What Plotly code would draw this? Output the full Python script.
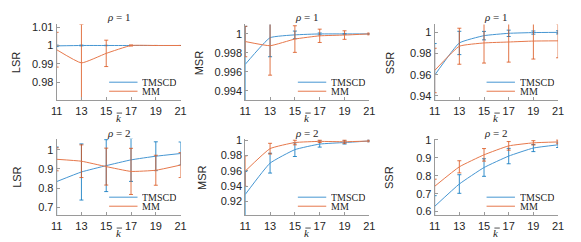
import plotly.graph_objects as go

k_values = [11, 13, 15, 17, 19, 21]
x_ticks = [11, 13, 15, 17, 19, 21]

# rho = 1
tmscd_lsr_r1 = [0.9998, 1.0, 1.0, 1.0, 1.0, 1.0]
tmscd_lsr_r1_err = [0.0004, 0.0002, 0.0001, 0.0, 0.0, 0.0]
mm_lsr_r1 = [0.9977, 0.9905, 0.9957, 1.0, 1.0, 1.0]
mm_lsr_r1_err = [0.0095, 0.021, 0.0072, 0.0003, 0.0, 0.0]

tmscd_msr_r1 = [0.9968, 0.9996, 0.9999, 1.0, 1.0, 1.0]
tmscd_msr_r1_err = [0.004, 0.002, 0.0004, 0.0001, 0.00005, 0.0]
mm_msr_r1 = [0.9992, 0.99876, 0.99946, 0.9998, 0.99988, 1.0]
mm_msr_r1_err = [0.0016, 0.0031, 0.0014, 0.0007, 0.00045, 0.0001]

tmscd_ssr_r1 = [0.9595, 0.99, 0.9969, 0.9991, 0.9998, 1.0]
tmscd_ssr_r1_err = [0.03, 0.011, 0.004, 0.003, 0.0015, 0.0015]
mm_ssr_r1 = [0.964, 0.9869, 0.99, 0.9909, 0.9918, 0.992]
mm_ssr_r1_err = [0.021, 0.017, 0.019, 0.019, 0.017, 0.016]

# rho = 2
tmscd_lsr_r2 = [0.834, 0.884, 0.917, 0.947, 0.966, 0.98]
tmscd_lsr_r2_err = [0.18, 0.146, 0.135, 0.112, 0.075, 0.06]
mm_lsr_r2 = [0.95, 0.94, 0.912, 0.887, 0.893, 0.92]
mm_lsr_r2_err = [0.06, 0.085, 0.096, 0.12, 0.078, 0.065]

tmscd_msr_r2 = [0.929, 0.970, 0.9877, 0.995, 0.997, 0.999]
tmscd_msr_r2_err = [0.03, 0.013, 0.009, 0.004, 0.002, 0.001]
mm_msr_r2 = [0.9596, 0.989, 0.997, 0.9985, 0.998, 0.999]
mm_msr_r2_err = [0.02, 0.007, 0.003, 0.0015, 0.002, 0.001]

tmscd_ssr_r2 = [0.629, 0.754, 0.846, 0.91, 0.955, 0.973]
tmscd_ssr_r2_err = [0.06, 0.052, 0.049, 0.043, 0.02, 0.015]
mm_ssr_r2 = [0.741, 0.85, 0.917, 0.967, 0.984, 0.989]
mm_ssr_r2_err = [0.04, 0.034, 0.035, 0.024, 0.012, 0.01]

series_names = ["TMSCD", "MM"]
y_labels = ["LSR", "MSR", "SSR"]
titles = ["<i>ρ</i> = 1", "<i>ρ</i> = 2"]

panels = [
    # (row, col, tmscd, tmscd_err, mm, mm_err, yrange, yticks, ticktext)
    (1, 1, tmscd_lsr_r1, tmscd_lsr_r1_err, mm_lsr_r1, mm_lsr_r1_err,
     [0.97, 1.0115], [0.98, 0.99, 1.0, 1.01], ["0.98", "0.99", "1", "1.01"]),
    (1, 2, tmscd_msr_r1, tmscd_msr_r1_err, mm_msr_r1, mm_msr_r1_err,
     [0.993, 1.001], [0.994, 0.996, 0.998, 1.0], ["0.994", "0.996", "0.998", "1"]),
    (1, 3, tmscd_ssr_r1, tmscd_ssr_r1_err, mm_ssr_r1, mm_ssr_r1_err,
     [0.9357, 1.0075], [0.94, 0.96, 0.98, 1.0], ["0.94", "0.96", "0.98", "1"]),
    (2, 1, tmscd_lsr_r2, tmscd_lsr_r2_err, mm_lsr_r2, mm_lsr_r2_err,
     [0.658, 1.057], [0.7, 0.8, 0.9, 1.0], ["0.7", "0.8", "0.9", "1"]),
    (2, 2, tmscd_msr_r2, tmscd_msr_r2_err, mm_msr_r2, mm_msr_r2_err,
     [0.9015, 1.002], [0.92, 0.94, 0.96, 0.98, 1.0], ["0.92", "0.94", "0.96", "0.98", "1"]),
    (2, 3, tmscd_ssr_r2, tmscd_ssr_r2_err, mm_ssr_r2, mm_ssr_r2_err,
     [0.5785, 1.007], [0.6, 0.7, 0.8, 0.9, 1.0], ["0.6", "0.7", "0.8", "0.9", "1"]),
]

W, H = 581, 242
col_px = {1: (51.7, 178.3), 2: (244.3, 371.0), 3: (437.7, 563.7)}
row_px = {1: (20.0, 98.3), 2: (137.7, 216.7)}
title_y = {1: 12.5, 2: 131.5}
ylabel_x = {(1, 1): 11, (1, 2): 198, (1, 3): 393, (2, 1): 11, (2, 2): 200, (2, 3): 391}

BLUE_L = "rgb(70,150,210)"
ORANGE_L = "rgb(230,120,75)"
BLUE_E = "rgba(0,114,189,0.8)"
ORANGE_E = "rgba(217,83,25,0.8)"
AXIS_C = "#9a9a9a"
TXT_C = "#262626"
SANS = "Liberation Sans, Arial, sans-serif"
SERIF = "Liberation Serif, Times New Roman, serif"

fig = go.Figure()
layout = dict(
    width=W, height=H, margin=dict(l=0, r=0, t=0, b=0),
    paper_bgcolor="white", plot_bgcolor="white", showlegend=False,
    font=dict(family=SANS, size=11, color=TXT_C),
)
annotations = []
shapes = []

for i, (r, c, t, te, m, me, yr, ytv, ytt) in enumerate(panels):
    idx = i + 1
    xa = "xaxis" if idx == 1 else f"xaxis{idx}"
    ya = "yaxis" if idx == 1 else f"yaxis{idx}"
    xr = "x" if idx == 1 else f"x{idx}"
    yrf = "y" if idx == 1 else f"y{idx}"
    px0, px1 = col_px[c]
    py0, py1 = row_px[r]
    xd = [px0 / W, px1 / W]
    yd = [1 - py1 / H, 1 - py0 / H]
    axis_common = dict(showline=True, linecolor=AXIS_C, linewidth=1, ticks="inside",
                       ticklen=3, tickcolor=AXIS_C, showgrid=False, zeroline=False,
                       mirror=False, tickfont=dict(family=SANS, size=11, color=TXT_C))
    layout[xa] = dict(domain=xd, anchor=yrf, range=[11, 21], tickvals=x_ticks,
                      ticktext=[str(v) for v in x_ticks], **axis_common)
    layout[ya] = dict(domain=yd, anchor=xr, range=yr, tickvals=ytv, ticktext=ytt,
                      **axis_common)

    fig.add_trace(go.Scatter(
        x=k_values, y=t, name=series_names[0], mode="lines", xaxis=xr, yaxis=yrf,
        line=dict(color=BLUE_L, width=1, shape="spline", smoothing=0.4),
        error_y=dict(type="data", array=te, visible=True, color=BLUE_E,
                     thickness=1, width=2),
    ))
    fig.add_trace(go.Scatter(
        x=k_values, y=m, name=series_names[1], mode="lines", xaxis=xr, yaxis=yrf,
        line=dict(color=ORANGE_L, width=1, shape="spline", smoothing=0.4),
        error_y=dict(type="data", array=me, visible=True, color=ORANGE_E,
                     thickness=1, width=2),
    ))

    cx = (px0 + px1) / 2
    # title
    annotations.append(dict(text=titles[r - 1], x=cx / W, y=1 - title_y[r] / H,
                            xref="paper", yref="paper", showarrow=False,
                            xanchor="center", yanchor="middle",
                            font=dict(family=SERIF, size=11, color=TXT_C)))
    # x label: italic k with a bar
    kl_y = py1 + 18
    annotations.append(dict(text="<i>k</i>", x=cx / W, y=1 - kl_y / H,
                            xref="paper", yref="paper", showarrow=False,
                            xanchor="center", yanchor="middle",
                            font=dict(family=SERIF, size=11, color=TXT_C)))
    shapes.append(dict(type="line", xref="paper", yref="paper",
                       x0=(cx - 2) / W, x1=(cx + 3.5) / W,
                       y0=1 - (kl_y - 5) / H, y1=1 - (kl_y - 5) / H,
                       line=dict(color=TXT_C, width=0.8)))
    # y label
    annotations.append(dict(text=y_labels[c - 1], x=ylabel_x[(r, c)] / W,
                            y=1 - (py0 + py1) / 2 / H,
                            xref="paper", yref="paper", showarrow=False, textangle=-90,
                            xanchor="center", yanchor="middle",
                            font=dict(family=SANS, size=11, color=TXT_C)))
    # legend (drawn inside the lower right corner)
    for name, col, dy in ((series_names[0], BLUE_L, 18.8), (series_names[1], ORANGE_L, 9.5)):
        yy = 1 - (py1 - dy) / H
        shapes.append(dict(type="line", xref="paper", yref="paper",
                           x0=(px1 - 73) / W, x1=(px1 - 44) / W, y0=yy, y1=yy,
                           line=dict(color=col, width=1)))
        annotations.append(dict(text=name, x=(px1 - 41) / W, y=yy, xref="paper",
                                yref="paper", showarrow=False, xanchor="left",
                                yanchor="middle", height=9, valign="middle",
                                font=dict(family=SERIF, size=10, color=TXT_C)))

layout["annotations"] = annotations
layout["shapes"] = shapes
fig.update_layout(**layout)
fig.write_html("out.html", config={"displayModeBar": False},
               post_script="document.body.style.margin='0';document.body.style.padding='0';")
